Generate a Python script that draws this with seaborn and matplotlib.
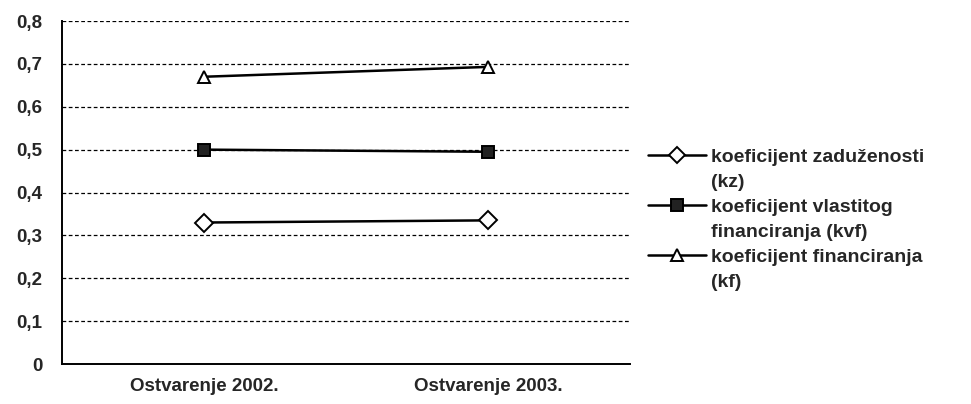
import numpy as np
import pandas as pd
import matplotlib.pyplot as plt
from matplotlib.lines import Line2D
import seaborn as sns

# data
categories = ["Ostvarenje 2002.", "Ostvarenje 2003."]
kz = [0.33, 0.335]
kvf = [0.50, 0.495]
kf = [0.67, 0.693]
series_names = [
    "koeficijent zaduženosti\n(kz)",
    "koeficijent vlastitog\nfinanciranja (kvf)",
    "koeficijent financiranja\n(kf)",
]
y_ticks = [0, 0.1, 0.2, 0.3, 0.4, 0.5, 0.6, 0.7, 0.8]
y_labels = ["0", "0,1", "0,2", "0,3", "0,4", "0,5", "0,6", "0,7", "0,8"]

df = pd.DataFrame({
    "kategorija": categories * 3,
    "vrijednost": kz + kvf + kf,
    "serija": [series_names[0]] * 2 + [series_names[1]] * 2 + [series_names[2]] * 2,
})

markers = ["D", "s", "^"]
faces = ["white", "#222222", "white"]

sns.set_theme(style="white")
plt.rcParams["font.family"] = ["Liberation Sans", "DejaVu Sans"]
plt.rcParams["font.weight"] = "bold"

fig = plt.figure(figsize=(9.71, 4.04), dpi=100)
ax = fig.add_axes([0.064, 0.099, 0.585, 0.849])

sns.lineplot(
    data=df, x="kategorija", y="vrijednost", hue="serija", style="serija",
    markers=dict(zip(series_names, markers)),
    dashes=False, palette=["black"] * 3, linewidth=1.8, markersize=9,
    ax=ax, sort=False, legend=False,
)

for line, face in zip(ax.lines[:3], faces):
    line.set_markerfacecolor(face)
    line.set_markeredgecolor("black")
    line.set_markeredgewidth(1.4)

ax.set_xlim(-0.5, 1.5)
ax.set_ylim(0, 0.8)
ax.set_yticks(y_ticks)
ax.set_yticklabels(y_labels, fontsize=13.5, fontweight="bold")
ax.set_xticks([-0.5, 0.5, 1.5])
ax.set_xticklabels([])
ax.set_xticks([0, 1], minor=True)
ax.set_xticklabels(categories, minor=True, fontsize=13.5, fontweight="bold")
ax.tick_params(axis="x", which="minor", length=0, pad=10)
ax.tick_params(axis="x", which="major", direction="out", length=5, width=1.2, color="black")
ax.tick_params(axis="y", direction="out", length=6, width=1.2, color="black", pad=8)
ax.set_xlabel("")
ax.set_ylabel("")

for y in y_ticks[1:]:
    ax.axhline(y, color="black", linestyle=(0, (3, 2)), linewidth=0.9, zorder=0)

sns.despine(ax=ax)
for side in ["left", "bottom"]:
    ax.spines[side].set_color("black")
    ax.spines[side].set_linewidth(1.4)

# legend: handle aligned with first line of each label
handles, labels = [], []
for name, m, face in zip(series_names, markers, faces):
    first, second = name.split("\n")
    handles.append(Line2D([], [], color="black", linewidth=1.8, marker=m,
                          markersize=8, markerfacecolor=face,
                          markeredgecolor="black", markeredgewidth=1.4))
    labels.append(first)
    handles.append(Line2D([], [], color="none"))
    labels.append(second)

ax.legend(
    handles, labels, loc="center left", bbox_to_anchor=(1.0, 0.42),
    frameon=False, handlelength=3.0, handletextpad=0.25,
    labelspacing=0.38, prop={"weight": "bold", "size": 14},
)

plt.savefig("out.png", dpi=100)
plt.close()
